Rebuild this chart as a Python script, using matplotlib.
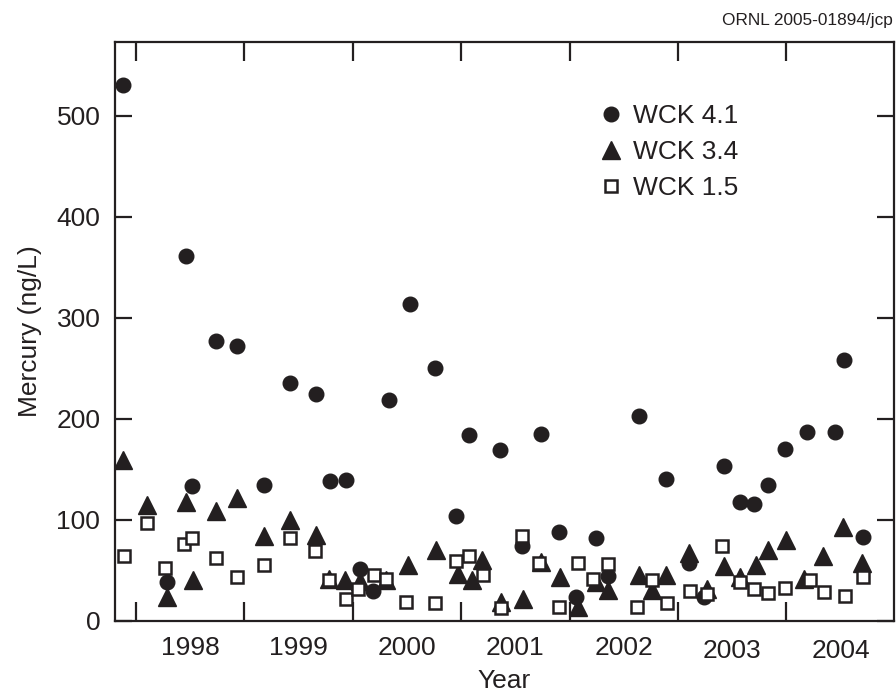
import numpy as np
import matplotlib
matplotlib.use("Agg")
import matplotlib.pyplot as plt
from matplotlib.ticker import FixedLocator, NullFormatter

plt.rcParams['font.family'] = ['Liberation Sans', 'DejaVu Sans']

INK = '#231f20'

# WCK 4.1 (filled circles)
yr_41 = [1997.88, 1998.29, 1998.46, 1998.52, 1998.74, 1998.93, 1999.18, 1999.42,
         1999.66, 1999.79, 1999.94, 2000.07, 2000.19, 2000.33, 2000.53, 2000.76,
         2000.95, 2001.07, 2001.36, 2001.56, 2001.74, 2001.90, 2002.06, 2002.24,
         2002.35, 2002.64, 2002.89, 2003.10, 2003.24, 2003.42, 2003.57, 2003.70,
         2003.83, 2003.99, 2004.19, 2004.45, 2004.53, 2004.71]
hg_41 = [530, 39, 361, 134, 277, 272, 135, 236,
         225, 139, 140, 51, 30, 219, 314, 250,
         104, 184, 169, 74, 185, 88, 24, 82,
         45, 203, 141, 57, 24, 153, 118, 116,
         135, 170, 187, 187, 258, 83]

# WCK 3.4 (filled triangles)
yr_34 = [1997.88, 1998.10, 1998.29, 1998.46, 1998.53, 1998.74, 1998.93, 1999.18,
         1999.42, 1999.66, 1999.78, 1999.93, 2000.07, 2000.31, 2000.51, 2000.77,
         2000.97, 2001.10, 2001.19, 2001.37, 2001.57, 2001.74, 2001.91, 2002.08,
         2002.24, 2002.35, 2002.64, 2002.76, 2002.89, 2003.10, 2003.27, 2003.42,
         2003.57, 2003.72, 2003.83, 2004.00, 2004.16, 2004.34, 2004.52, 2004.70]
hg_34 = [159, 115, 24, 118, 41, 109, 122, 84,
         100, 85, 42, 41, 40, 41, 55, 70,
         47, 41, 60, 19, 22, 58, 44, 14,
         39, 31, 46, 31, 46, 67, 32, 54,
         44, 55, 70, 80, 42, 64, 93, 57]

# WCK 1.5 (open squares)
yr_15 = [1997.89, 1998.10, 1998.27, 1998.44, 1998.52, 1998.74, 1998.93, 1999.18,
         1999.42, 1999.65, 1999.78, 1999.94, 2000.05, 2000.20, 2000.31, 2000.49,
         2000.76, 2000.95, 2001.07, 2001.20, 2001.37, 2001.56, 2001.72, 2001.90,
         2002.08, 2002.22, 2002.35, 2002.62, 2002.76, 2002.90, 2003.11, 2003.27,
         2003.41, 2003.57, 2003.70, 2003.83, 2003.99, 2004.22, 2004.35, 2004.54,
         2004.71]
hg_15 = [64, 97, 52, 76, 82, 62, 44, 55,
         82, 69, 41, 22, 32, 46, 42, 19,
         18, 59, 64, 46, 13, 84, 57, 14,
         57, 42, 56, 14, 41, 18, 30, 27,
         74, 39, 32, 28, 33, 41, 29, 25,
         44]

year_ticks = [1998, 1999, 2000, 2001, 2002, 2003, 2004]
year_labels = ['1998', '1999', '2000', '2001', '2002', '2003', '2004']
y_ticks = [0, 100, 200, 300, 400, 500]

FS = 19

fig = plt.figure(figsize=(8.96, 6.93), dpi=100)
ax = fig.add_axes([0.1283, 0.1039, 0.8695, 0.8355])

ax.plot(yr_41, hg_41, 'o', ms=10.5, color=INK, mec=INK, label='WCK 4.1', zorder=3)
ax.plot(yr_34, hg_34, '^', ms=13, color=INK, mec=INK, label='WCK 3.4', zorder=3)
ax.plot(yr_15, hg_15, 's', ms=9, mfc='white', mec=INK, mew=1.8, label='WCK 1.5', zorder=4)

ax.set_xlim(1997.806, 2004.993)
ax.set_ylim(0, 573)

# ticks at year boundaries, labels in the middle of each year
ax.xaxis.set_major_locator(FixedLocator(year_ticks))
ax.xaxis.set_major_formatter(NullFormatter())
ax.xaxis.set_minor_locator(FixedLocator([y + 0.5 for y in year_ticks]))
ax.set_xticklabels(year_labels, minor=True)
ax.set_yticks(y_ticks)

ax.tick_params(which='major', direction='in', length=14, width=1.6, color=INK,
               top=True, right=True, labelsize=FS, labelcolor=INK, pad=10.5)
ax.tick_params(axis='y', which='major', length=12)
ax.tick_params(which='minor', length=0, labelsize=FS, labelcolor=INK, pad=11)
for t in ax.xaxis.get_minor_ticks()[5:]:
    t.set_pad(13)

for s in ax.spines.values():
    s.set_linewidth(1.6)
    s.set_color(INK)

ax.set_xlabel('Year', fontsize=FS, color=INK, labelpad=4)
ax.set_ylabel('Mercury (ng/L)', fontsize=FS, color=INK, labelpad=10)

ax.legend(loc='upper left', bbox_to_anchor=(0.6198, 0.893), frameon=False,
          fontsize=FS, handlelength=1.0, handletextpad=0.33, labelspacing=0.46,
          borderpad=0, borderaxespad=0, labelcolor=INK)

fig.text(0.997, 0.97, 'ORNL 2005-01894/jcp', ha='right', va='center',
         fontsize=12.4, color=INK)

fig.savefig('out.png', dpi=100)
